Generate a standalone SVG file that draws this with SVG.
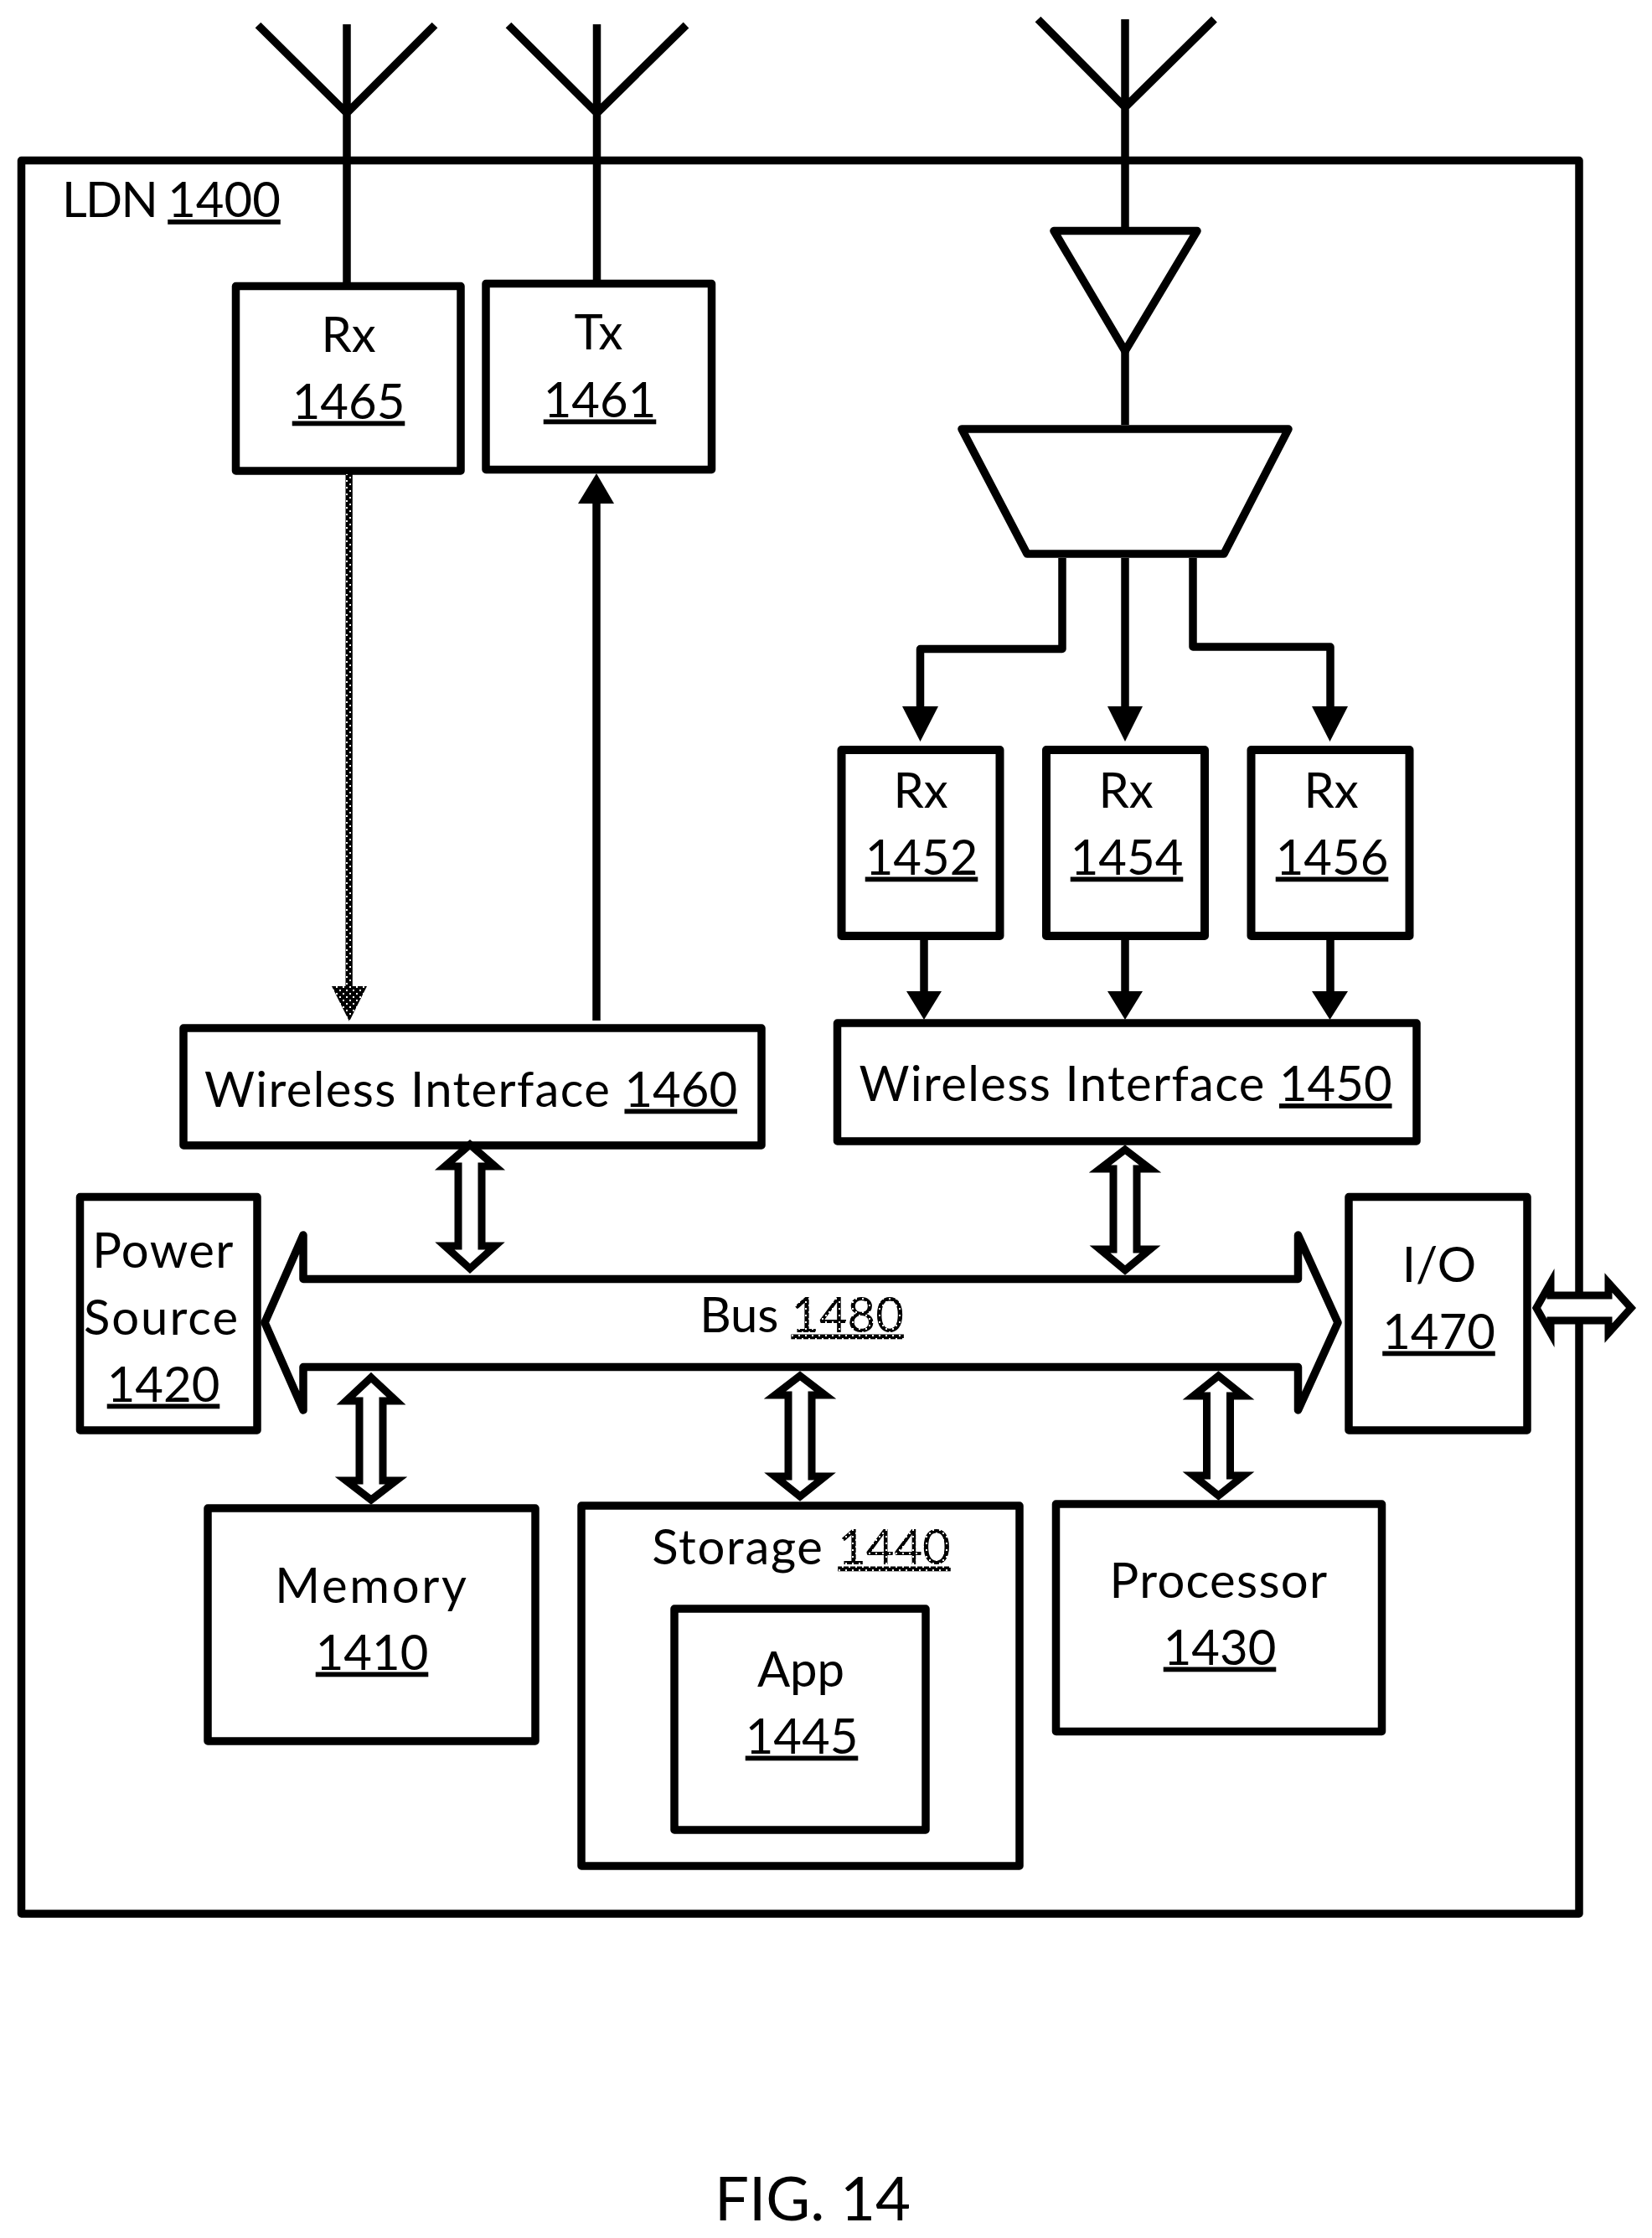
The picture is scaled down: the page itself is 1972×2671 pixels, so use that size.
<svg xmlns="http://www.w3.org/2000/svg" width="1972" height="2671" viewBox="0 0 1972 2671">
<style>
text{font-family:"Lato","Liberation Sans",sans-serif;font-size:58px;fill:#000;text-anchor:middle}
.u{text-decoration:underline;text-decoration-thickness:5px;text-underline-offset:8px;letter-spacing:0}
.d{fill:url(#dots)}
.b{fill:#fff;stroke:#000;stroke-width:9.5;stroke-linejoin:round}
.t{fill:#fff;stroke:#000;stroke-width:10;stroke-linejoin:round}
.l{fill:none;stroke:#000;stroke-width:9.5;stroke-linejoin:round}
.a{fill:#fff;stroke:#000;stroke-width:9;stroke-linejoin:miter;stroke-miterlimit:8}
.h{fill:#000}
</style>
<defs>
<pattern id="dots" width="8" height="8" patternUnits="userSpaceOnUse">
<rect width="8" height="8" fill="#000"/><rect x="1" y="1" width="2" height="2" fill="#fff"/><rect x="5" y="5" width="2" height="2" fill="#fff"/>
</pattern>
</defs>
<rect width="1972" height="2671" fill="#fff"/>
<g id="ldn"><rect class="l" x="25.500" y="191.500" width="1859.500" height="2092.500"/>
<text x="74" y="259" style="text-anchor:start;letter-spacing:-1.700px">LDN <tspan class="u">1400</tspan></text></g>
<g id="amplifier"><path class="b" d="M1258 275.500H1429L1343 419Z"/></g>
<g id="mux"><path class="b" d="M1148 512H1538L1461 661H1226Z"/></g>
<g id="rx1465"><rect class="b" x="281.500" y="341.500" width="268.500" height="220.500"/><text x="416" y="419.500">Rx</text><text x="416" y="499.500" class="u">1465</text></g>
<g id="tx1461"><rect class="b" x="580" y="338.500" width="269.500" height="222"/><text x="714.500" y="417">Tx</text><text x="716" y="497.500" class="u">1461</text></g>
<g id="rx1452"><rect class="t" x="1004.500" y="895" width="189" height="222"/><text x="1099" y="964">Rx</text><text x="1100" y="1043.500" class="u">1452</text></g>
<g id="rx1454"><rect class="t" x="1249" y="895" width="189" height="222"/><text x="1344" y="964">Rx</text><text x="1345" y="1043.500" class="u">1454</text></g>
<g id="rx1456"><rect class="t" x="1493.500" y="895" width="189" height="222"/><text x="1589" y="964">Rx</text><text x="1590" y="1043.500" class="u">1456</text></g>
<g id="wi1460"><rect class="b" x="219" y="1227" width="690" height="140"/><text x="562" y="1320.500" style="letter-spacing:1.370px">Wireless Interface <tspan class="u">1460</tspan></text></g>
<g id="wi1450"><rect class="b" x="999.500" y="1221" width="691.500" height="141"/><text x="1343.500" y="1314" style="letter-spacing:1.370px">Wireless Interface <tspan class="u">1450</tspan></text></g>
<g id="power1420"><rect class="b" x="95.500" y="1428.500" width="211.500" height="278.500"/><text x="195" y="1513" style="letter-spacing:1.400px">Power</text><text x="193" y="1592.500" style="letter-spacing:2px">Source</text><text x="195" y="1672.500" class="u">1420</text></g>
<g id="bus1480"><path class="b" style="fill:none" d="M1549.500 1526.500H362V1474L316 1578.500L362 1683V1631.500H1549.500V1683L1597 1578.500L1549.500 1474Z"/><text x="957" y="1589.500">Bus <tspan class="u d">1480</tspan></text></g>
<g id="io1470"><rect class="b" x="1610" y="1428.500" width="213" height="278.500"/><text x="1718" y="1529.500">I/O</text><text x="1717.500" y="1609.500" class="u">1470</text></g>
<g id="memory1410"><rect class="b" x="248" y="1800" width="391" height="278"/><text x="444" y="1912.500" style="letter-spacing:2.700px">Memory</text><text x="444" y="1992.500" class="u">1410</text></g>
<g id="storage1440"><rect class="b" x="694" y="1797" width="523" height="430"/><text x="956.500" y="1866.500" style="letter-spacing:1.700px">Storage <tspan class="u d">1440</tspan></text></g>
<g id="app1445"><rect class="b" x="805" y="1920" width="300" height="264"/><text x="956" y="2013">App</text><text x="957" y="2092.500" class="u">1445</text></g>
<g id="processor1430"><rect class="b" x="1260.500" y="1795" width="389" height="271.500"/><text x="1455" y="1906.500" style="letter-spacing:1.300px">Processor</text><text x="1456" y="1986.500" class="u">1430</text></g>
<text id="caption" x="970" y="2650" style="font-size:72.500px">FIG. 14</text>
<g id="connectors">
<path class="l" d="M414 29V337M308 30L414 135L519 30"/>
<path class="l" d="M712.500 29V334M607 30L712.500 135L819 30"/>
<path class="l" d="M1343 23V271M1239 23L1343 128L1449.500 23M1343 418V507"/>
<path class="l" d="M1268 666V774.500H1098.500V845"/>
<path class="l" d="M1343 666V845"/>
<path class="l" d="M1424 666V772H1588V845"/>
<path class="h" d="M1077 843H1120L1098.500 885ZM1322 843H1364L1343 885ZM1566 843H1609L1587.500 885Z"/>
<path class="l" d="M1103 1122V1185M1343 1122V1185M1588 1122V1185"/>
<path class="h" d="M1082 1183H1124L1103 1217ZM1322 1183H1364L1343 1217ZM1566 1183H1609L1587.500 1217Z"/>
<path d="M412.500 566H420.800V1177H438L417 1219L396 1177H412.500Z" fill="url(#dots)"/>
<path class="l" d="M712 1218V600"/>
<path class="h" d="M690 601H733L712 565Z"/>
<path class="a" d="M561 1366L591 1392H575V1487H591L561 1514L531 1487H547V1392H531Z"/>
<path class="a" d="M1343 1372L1373 1395H1357V1491H1373L1343 1516L1313 1491H1329V1395H1313Z"/>
<path class="a" d="M443 1644L473 1672H457V1767H473L443 1790L413 1767H429V1672H413Z"/>
<path class="a" d="M955 1642L985 1665H969V1762H985L955 1786L925 1762H941V1665H925Z"/>
<path class="a" d="M1454.500 1642L1484.500 1666H1468.500V1761H1484.500L1454.500 1785L1424.500 1761H1440.500V1666H1424.500Z"/>
<path class="a" d="M1834 1561L1851 1531V1546H1920V1531L1947 1561L1920 1591V1576H1851V1591Z"/>
</g>
</svg>
